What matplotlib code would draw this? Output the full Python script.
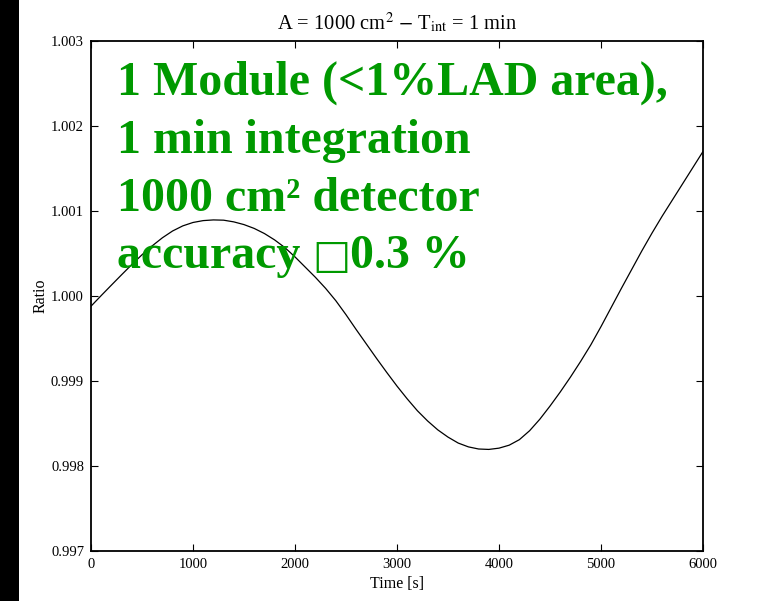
import matplotlib
matplotlib.use("Agg")
import matplotlib.pyplot as plt
from matplotlib.patches import Rectangle

# Count-rate ratio over time for a 1000 cm^2 detector, 1 min integration
time_s = list(range(0, 6001, 100))
ratio = [
    0.999880, 1.000005, 1.000128, 1.000250, 1.000370, 1.000485, 1.000590,
    1.000685, 1.000765, 1.000825, 1.000865, 1.000887, 1.000895, 1.000892,
    1.000872, 1.000840, 1.000795, 1.000735, 1.000660, 1.000570, 1.000460,
    1.000340, 1.000220, 1.000090, 0.999945, 0.999780, 0.999605, 0.999435,
    0.999265, 0.999100, 0.998940, 0.998790, 0.998650, 0.998530, 0.998425,
    0.998340, 0.998270, 0.998225, 0.998200, 0.998195, 0.998210, 0.998245,
    0.998310, 0.998415, 0.998550, 0.998705, 0.998870, 0.999045, 0.999230,
    0.999425, 0.999640, 0.999865, 1.000090, 1.000310, 1.000530, 1.000740,
    1.000940, 1.001130, 1.001320, 1.001510, 1.001700,
]

x_ticks = [0, 1000, 2000, 3000, 4000, 5000, 6000]
y_ticks = [0.997, 0.998, 0.999, 1.000, 1.001, 1.002, 1.003]
y_tick_labels = ["0.997", "0.998", "0.999", "1.000", "1.001", "1.002", "1.003"]

title = r"A = 1000 cm$^2$ $-$ T$_{\rm int}$ = 1 min"
note_lines = ["1 Module (<1%LAD area),",
              "1 min integration",
              "1000 cm\u00b2 detector"]
note_last = ["accuracy ", "\u25a1", "0.3 %"]

plt.rcParams["font.family"] = ["Liberation Serif", "DejaVu Serif"]
plt.rcParams["mathtext.fontset"] = "stix"

W, H = 760, 601
fig = plt.figure(figsize=(W / 100, H / 100), dpi=100)
fig.patches.append(Rectangle((0, 0), 19 / W, 1, transform=fig.transFigure,
                             facecolor="black", edgecolor="none", zorder=0))

ax = fig.add_axes([91 / W, 1 - 551 / H, 612 / W, 510 / H])
ax.plot(time_s, ratio, color="black", linewidth=0.9)
ax.set_xlim(0, 6000)
ax.set_ylim(0.997, 1.003)
ax.set_xticks(x_ticks)
ax.set_yticks(y_ticks)
ax.set_yticklabels(y_tick_labels)
ax.tick_params(direction="in", length=5, width=0.8, labelsize=10.5,
               top=True, right=True, pad=5)
for s in ax.spines.values():
    s.set_linewidth(1.3)

ax.set_title(title, fontsize=14.8, pad=8)
ax.set_xlabel("Time [s]", fontsize=11.5)
ax.set_ylabel("Ratio", fontsize=11.5)
ax.xaxis.set_label_coords(0.5, -0.05)
ax.yaxis.set_label_coords(-0.07, 0.5)

green = "#009900"
note_kw = dict(color=green, fontsize=34.5, fontweight="bold",
               family=["Liberation Serif", "DejaVu Serif"])
baselines = [95, 153, 211, 268]
for line, yb in zip(note_lines, baselines):
    fig.text(117 / W, 1 - yb / H, line, va="baseline", ha="left", **note_kw)

# last line: word, a thin box glyph, then the number
fig.canvas.draw()
renderer = fig.canvas.get_renderer()
xpos = 117
yb = baselines[-1]
t1 = fig.text(xpos / W, 1 - yb / H, note_last[0], va="baseline", ha="left", **note_kw)
xpos = t1.get_window_extent(renderer).x1
t2 = fig.text(xpos / W, 1 - yb / H, note_last[1], va="baseline", ha="left",
              color=green, fontsize=29, fontweight="normal", family=["DejaVu Sans"])
xpos = t2.get_window_extent(renderer).x1
fig.text(xpos / W, 1 - yb / H, note_last[2], va="baseline", ha="left", **note_kw)

fig.savefig("out.png", dpi=100)
